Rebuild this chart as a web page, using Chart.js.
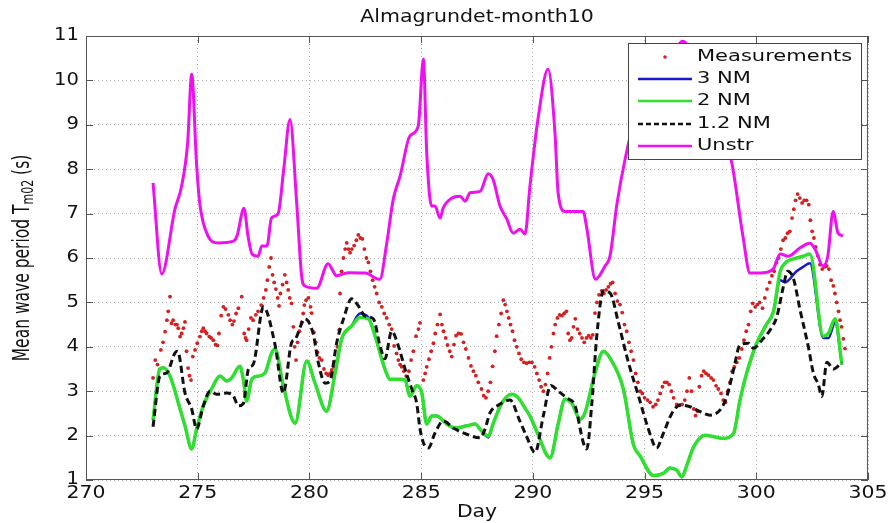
<!DOCTYPE html>
<html>
<head>
<meta charset="utf-8">
<title>Almagrundet-month10</title>
<script src="https://cdn.jsdelivr.net/npm/chart.js@4.4.1/dist/chart.umd.min.js"></script>
<style>
  html, body { margin: 0; padding: 0; background: #fff; }
  #wrap { width: 890px; height: 523px; position: relative; }
</style>
</head>
<body>
<div id="wrap"><canvas id="waveChart"></canvas></div>
<script>
// tick labels
const xTicks = [270, 275, 280, 285, 290, 295, 300, 305];
const yTicks = [1, 2, 3, 4, 5, 6, 7, 8, 9, 10, 11];

// measured Tm02 (red dots)
const measDays = [273.0, 273.1, 273.2, 273.35, 273.45, 273.54, 273.62, 273.68, 273.76, 273.83, 273.9, 274.0, 274.07, 274.13, 274.21, 274.28, 274.36, 274.43, 274.5, 274.57, 274.63, 274.7, 274.78, 274.88, 274.98,
  275.1, 275.18, 275.25, 275.33, 275.4, 275.52, 275.6, 275.7, 275.8, 275.88, 275.95, 276.05, 276.15, 276.25, 276.37, 276.45, 276.55, 276.62, 276.72, 276.82, 276.97,
  277.08, 277.14, 277.19, 277.28, 277.38, 277.48, 277.6, 277.7, 277.84, 277.95, 278.05, 278.12, 278.2, 278.28, 278.35, 278.42, 278.5, 278.58, 278.64, 278.7, 278.8, 278.9, 278.98,
  279.05, 279.12, 279.2, 279.28, 279.34, 279.4, 279.47, 279.55, 279.65, 279.72, 279.77, 279.85, 279.95, 280.05, 280.1, 280.2, 280.28, 280.36, 280.45, 280.55, 280.65, 280.75, 280.84, 280.92,
  281.0, 281.08, 281.15, 281.25, 281.33, 281.37, 281.44, 281.52, 281.6, 281.67, 281.75, 281.82, 281.9, 282.0, 282.1, 282.19, 282.28, 282.37, 282.46, 282.55, 282.64, 282.73, 282.83, 282.92,
  283.01, 283.12, 283.24, 283.35, 283.46, 283.57, 283.68, 283.79, 283.9, 283.98, 284.06, 284.13, 284.23, 284.33, 284.45, 284.55, 284.65, 284.77, 284.88, 284.95,
  285.1, 285.18, 285.25, 285.35, 285.45, 285.55, 285.63, 285.73, 285.85, 285.93, 286.0, 286.1, 286.18, 286.28, 286.37, 286.47, 286.56, 286.67, 286.79, 286.9,
  287.0, 287.12, 287.23, 287.34, 287.45, 287.56, 287.7, 287.8, 287.9, 288.0, 288.1, 288.2, 288.3, 288.38, 288.48, 288.58, 288.68, 288.76, 288.84, 288.92,
  289.0, 289.09, 289.18, 289.28, 289.38, 289.48, 289.6, 289.72, 289.84, 289.96, 290.08, 290.18, 290.28, 290.37, 290.47, 290.56, 290.66, 290.75, 290.83, 290.92,
  291.0, 291.1, 291.2, 291.3, 291.4, 291.5, 291.58, 291.66, 291.74, 291.82, 291.9, 292.0, 292.1, 292.2, 292.3, 292.4, 292.5, 292.6, 292.68, 292.78, 292.87, 292.96,
  293.08, 293.18, 293.28, 293.38, 293.48, 293.57, 293.68, 293.78, 293.9, 294.0, 294.1, 294.2, 294.3, 294.4, 294.5, 294.6, 294.7, 294.8, 294.9,
  295.0, 295.13, 295.25, 295.38, 295.5, 295.6, 295.7, 295.8, 295.9, 296.0, 296.1, 296.2, 296.3, 296.44, 296.55, 296.68, 296.8, 296.9,
  297.0, 297.1, 297.2, 297.28, 297.37, 297.45, 297.55, 297.65, 297.75, 297.86, 297.98, 298.08, 298.2, 298.3, 298.42, 298.52, 298.62, 298.72, 298.82, 298.92,
  299.02, 299.13, 299.24, 299.35, 299.45, 299.55, 299.65, 299.75, 299.84, 299.95, 300.05, 300.15, 300.28, 300.38, 300.48, 300.6, 300.7, 300.8, 300.9,
  301.0, 301.1, 301.2, 301.3, 301.4, 301.5, 301.6, 301.68, 301.76, 301.85, 301.95, 302.05, 302.15, 302.25, 302.35, 302.42, 302.5, 302.58, 302.66, 302.75, 302.85, 302.95,
  303.05, 303.15, 303.25, 303.35, 303.45, 303.52, 303.6, 303.68, 303.75, 303.82, 303.9, 303.97];
const measVals = [3.3, 3.7, 3.6, 3.93, 4.1, 4.34, 4.6, 4.8, 5.13, 4.53, 4.6, 4.5, 4.5, 4.42, 4.23, 4.3, 4.42, 4.56, 3.9, 3.52, 3.35, 3.25, 3.78, 3.93, 4.08,
  4.23, 4.35, 4.42, 4.35, 4.3, 4.23, 4.2, 4.15, 4.05, 4.03, 4.3, 4.7, 4.9, 4.85, 4.72, 4.6, 4.5, 4.58, 4.75, 4.87, 5.13,
  4.3, 4.2, 4.15, 4.4, 4.65, 4.6, 4.72, 4.8, 4.94, 5.1, 5.28, 5.5, 5.8, 6.0, 5.62, 5.45, 5.3, 5.1, 4.92, 5.2, 5.4, 5.62, 5.45,
  5.28, 5.1, 4.98, 4.45, 4.0, 3.7, 4.1, 4.35, 4.55, 4.75, 4.94, 5.05, 5.1, 4.9, 4.76, 4.33, 4.1, 3.88, 3.75, 3.7, 3.5, 3.4, 3.36, 3.4,
  3.48, 3.55, 3.67, 4.0, 4.38, 5.2, 5.7, 6.0, 6.2, 6.34, 6.2, 6.12, 6.2, 6.28, 6.4, 6.52, 6.45, 6.43, 6.2, 6.0, 5.9, 5.7, 5.5, 5.35,
  5.2, 5.0, 4.9, 4.75, 4.65, 4.5, 4.4, 4.02, 3.85, 3.7, 3.6, 3.55, 3.45, 3.34, 3.45, 3.7, 3.9, 4.24, 4.4, 4.54,
  3.25, 3.4, 3.55, 3.72, 3.9, 4.08, 4.3, 4.5, 4.73, 4.5, 4.35, 4.2, 4.04, 3.9, 3.78, 4.05, 4.25, 4.3, 4.29, 4.1,
  3.95, 3.75, 3.57, 3.45, 3.35, 3.2, 3.05, 2.9, 2.85, 3.0, 3.2, 3.56, 3.9, 4.24, 4.5, 4.75, 5.05, 4.95, 4.8, 4.65,
  4.5, 4.35, 4.15, 4.0, 3.85, 3.72, 3.65, 3.63, 3.65, 3.65, 3.55, 3.4, 3.25, 3.1, 3.0, 3.15, 3.4, 3.75, 4.0, 4.3,
  4.5, 4.65, 4.72, 4.7, 4.75, 4.8, 4.3, 4.15, 4.2, 4.45, 4.63, 4.4, 4.3, 4.2, 4.1, 4.2, 4.25, 4.2, 4.27, 4.76, 5.0, 5.17,
  5.26, 5.2, 5.28, 5.35, 5.42, 5.45, 5.2, 5.03, 4.95, 4.77, 4.5, 4.35, 4.1, 3.9, 3.7, 3.4, 3.2, 3.0, 2.95,
  2.85, 2.8, 2.75, 2.65, 2.7, 2.8, 2.95, 3.1, 3.2, 3.2, 3.15, 3.0, 2.85, 2.7, 2.68, 2.7, 2.8, 3.0,
  3.3, 3.0, 2.6, 2.45, 2.55, 3.1, 3.35, 3.45, 3.4, 3.36, 3.3, 3.25, 3.12, 3.05, 2.95, 2.8, 2.75, 3.0, 3.2, 3.45,
  3.55, 3.65, 3.75, 3.95, 4.15, 4.35, 4.5, 4.8, 4.98, 4.9, 4.95, 5.0, 4.87, 5.1, 5.3, 5.45, 5.6, 5.7, 5.9,
  6.0, 6.2, 6.4, 6.45, 6.56, 6.6, 6.9, 7.1, 7.3, 7.44, 7.35, 7.24, 7.3, 7.3, 7.2, 6.85, 6.6, 6.45, 6.25, 6.05, 5.85, 5.75,
  5.8, 5.82, 5.75, 5.5, 5.37, 5.2, 5.0, 4.8, 4.6, 4.45, 4.18, 3.96];

// 3 NM and 2 NM model runs (same time points)
const nmDays = [273.0, 273.3, 273.46, 273.76, 274.21, 274.43, 274.73, 274.95, 275.25, 275.62, 276.0, 276.3, 276.52, 276.89, 277.04, 277.19, 277.42, 277.71,
  278.01, 278.31, 278.46, 278.83, 279.36, 279.88, 280.25, 280.77, 281.15, 281.44, 281.89, 282.26, 282.64, 282.94, 283.38, 283.6,
  284.06, 284.28, 284.5, 284.8, 285.03, 285.25, 285.47, 285.7, 286.15, 286.52, 287.04, 287.41, 287.71, 288.01, 288.23, 288.61,
  289.05, 289.35, 289.65, 289.87, 290.17, 290.77, 291.14, 291.44, 291.74, 292.11, 292.33, 292.78, 293.16, 293.46, 294.05, 294.5, 294.8,
  295.4, 295.84, 296.14, 296.44, 296.67, 296.89, 297.19, 297.71, 298.53, 298.98, 299.27, 299.57, 300.02, 300.45, 300.77,
  301.07, 301.28, 301.8, 302.1, 302.4, 303.0, 303.23, 303.53, 303.83];
const nm2Vals = [2.35, 3.5, 3.53, 3.34, 2.6, 2.22, 1.7, 2.15, 2.67, 3.05, 3.34, 3.23, 3.3, 3.56, 3.27, 2.78, 3.27, 3.34,
  3.41, 3.86, 3.95, 3.12, 2.28, 3.68, 3.18, 2.55, 3.41, 4.17, 4.47, 4.66, 4.63, 4.24, 3.5, 3.27,
  3.27, 3.25, 2.89, 3.12, 2.96, 2.26, 2.44, 2.44, 2.26, 2.17, 2.22, 2.26, 2.1, 1.99, 2.28, 2.73,
  2.93, 2.85, 2.62, 2.44, 2.1, 1.5, 2.28, 2.82, 2.73, 2.37, 2.51, 3.41, 3.9, 3.74, 3.05, 1.8, 1.54,
  1.1, 1.15, 1.27, 1.22, 1.07, 1.33, 1.74, 2.01, 1.94, 2.05, 2.8, 3.41, 4.08, 4.5, 4.8,
  5.7, 5.88, 6.0, 6.04, 6.09, 4.24, 4.31, 4.63, 3.6];
const nm3Vals = [2.35, 3.5, 3.53, 3.34, 2.6, 2.22, 1.7, 2.15, 2.67, 3.05, 3.34, 3.23, 3.3, 3.56, 3.27, 2.78, 3.27, 3.34,
  3.41, 3.86, 3.95, 3.12, 2.28, 3.68, 3.18, 2.55, 3.41, 4.17, 4.47, 4.75, 4.66, 4.24, 3.5, 3.27,
  3.27, 3.25, 2.89, 3.12, 2.96, 2.26, 2.44, 2.44, 2.26, 2.17, 2.22, 2.26, 2.1, 1.96, 2.28, 2.73,
  2.93, 2.85, 2.62, 2.44, 2.1, 1.5, 2.28, 2.82, 2.73, 2.37, 2.51, 3.41, 3.9, 3.74, 3.05, 1.8, 1.54,
  1.1, 1.15, 1.27, 1.22, 1.07, 1.33, 1.74, 2.01, 1.94, 2.05, 2.8, 3.41, 4.08, 4.5, 4.8,
  5.5, 5.45, 5.7, 5.8, 5.88, 4.2, 4.2, 4.55, 3.6];

// 1.2 NM model run
const nm12Days = [273.0, 273.31, 273.61, 273.98, 274.1, 274.43, 274.73, 274.95, 275.25, 275.55, 275.85, 276.3, 276.6, 276.82, 277.04, 277.27, 277.49, 277.94,
  278.46, 278.83, 279.2, 279.36, 279.8, 280.17, 280.4, 280.7, 280.92, 281.22, 281.52, 281.89, 282.19, 282.49, 282.86, 283.16, 283.38, 283.68, 283.98,
  284.28, 284.58, 284.8, 284.95, 285.1, 285.32, 285.62, 285.99, 286.44, 287.04, 287.64, 287.86, 288.08, 288.5, 288.98, 289.4, 289.72,
  290.1, 290.47, 290.8, 291.14, 291.51, 291.89, 292.26, 292.41, 292.64, 292.86, 293.16, 293.46, 293.83, 294.28, 294.73,
  295.17, 295.54, 295.84, 296.22, 296.59, 297.04, 297.49, 297.93, 298.38, 298.68, 298.98, 299.27, 299.65, 299.87,
  300.25, 300.62, 300.92, 301.21, 301.4, 301.66, 301.96, 302.33, 302.56, 302.78, 302.93, 303.16, 303.45, 303.83];
const nm12Vals = [2.2, 3.34, 3.41, 3.86, 3.9, 2.96, 2.6, 2.15, 2.67, 3.0, 2.93, 2.96, 2.89, 2.67, 2.72, 3.5, 3.61, 4.9,
  4.05, 2.96, 4.09, 4.17, 4.63, 4.29, 3.64, 3.18, 3.23, 4.09, 4.62, 5.08, 4.92, 4.69, 4.63, 4.02, 3.73, 4.35, 4.02,
  3.5, 3.05, 2.73, 2.15, 1.84, 1.72, 2.06, 2.33, 2.17, 2.03, 1.95, 2.15, 2.51, 2.7, 2.8, 2.35, 1.98,
  1.62, 2.45, 3.13, 3.0, 2.85, 2.67, 1.84, 1.7, 2.73, 4.24, 5.26, 5.21, 4.54, 3.64, 2.89,
  2.15, 1.72, 2.05, 2.5, 2.69, 2.65, 2.54, 2.46, 2.58, 2.88, 3.48, 4.04, 4.08, 3.97,
  4.15, 4.38, 4.68, 5.35, 5.7, 5.54, 4.83, 4.0, 3.4, 3.15, 2.88, 3.65, 3.5, 3.65];

// unstructured grid run
const unstrDays = [273.0, 273.39, 273.98, 274.28, 274.55, 274.73, 274.95, 275.1, 275.46, 275.9, 276.6, 276.76, 277.07, 277.25, 277.43, 277.7, 277.87,
  278.1, 278.3, 278.6, 278.85, 279.13, 279.43, 279.65, 279.8, 280.33, 280.83, 281.22, 281.73, 282.5, 283.15, 283.46, 283.75,
  284.06, 284.5, 284.87, 285.1, 285.25, 285.47, 285.62, 285.85, 285.98, 286.37, 286.74, 286.97, 287.19, 287.64, 288.0, 288.22, 288.53, 288.83,
  289.12, 289.43, 289.65, 289.87, 290.23, 290.68, 290.99, 291.13, 291.44, 292.25, 292.42, 292.8, 293.23, 293.45, 293.77,
  294.13, 294.6, 295.3, 296.0, 296.72, 297.4, 298.2, 298.9, 299.4, 299.72, 300.17, 300.75, 301.07, 301.43, 301.96,
  302.4, 302.63, 302.99, 303.2, 303.44, 303.66, 303.88];
const unstrVals = [7.69, 5.64, 7.1, 7.62, 8.6, 10.14, 8.1, 7.2, 6.5, 6.34, 6.38, 6.5, 7.12, 6.5, 6.09, 6.04, 6.27,
  6.27, 6.9, 7.0, 8.0, 9.12, 7.24, 5.6, 5.37, 5.32, 5.87, 5.6, 5.67, 5.66, 5.52, 6.33, 7.32,
  7.85, 8.75, 8.97, 10.48, 8.37, 7.17, 7.17, 6.9, 7.12, 7.35, 7.39, 7.28, 7.47, 7.5, 7.9, 7.77, 7.17, 6.88,
  6.56, 6.65, 6.54, 7.62, 9.13, 10.25, 8.82, 7.47, 7.05, 7.05, 6.65, 5.52, 5.82, 6.04, 7.24,
  8.23, 9.2, 9.9, 10.3, 10.88, 10.2, 9.2, 8.15, 6.5, 5.66, 5.66, 5.75, 6.09, 6.04, 6.23,
  6.33, 6.2, 5.82, 6.04, 7.05, 6.56, 6.5];

const FONT = '"DejaVu Sans", sans-serif';

function toPoints(days, vals) {
    return days.map((d, i) => ({ x: d, y: vals[i] }));
}

// text drawn wider than the font, the original picture is stretched sideways
function wideText(ctx, text, x, y, size, sx, align) {
    ctx.save();
    ctx.font = size + 'px ' + FONT;
    ctx.textBaseline = 'middle';
    ctx.textAlign = 'left';
    const w = ctx.measureText(text).width * sx;
    let left = x;
    if (align === 'center') left = x - w / 2;
    else if (align === 'right') left = x - w;
    ctx.translate(left, y);
    ctx.scale(sx, 1);
    ctx.fillText(text, 0, 0);
    ctx.restore();
}

const legendItems = [
    { label: 'Measurements', kind: 'dot', color: '#d42020' },
    { label: '3 NM', kind: 'line', color: '#1a1acc', width: 2.5, dash: [] },
    { label: '2 NM', kind: 'line', color: '#2fe02f', width: 2.5, dash: [] },
    { label: '1.2 NM', kind: 'line', color: '#111', width: 2.5, dash: [5, 3] },
    { label: 'Unstr', kind: 'line', color: '#ee10ee', width: 2.5, dash: [] }
];

const matlabLook = {
    id: 'matlabLook',
    beforeDraw(chart) {
        const ctx = chart.ctx;
        ctx.save();
        ctx.fillStyle = '#fff';
        ctx.fillRect(0, 0, chart.width, chart.height);
        ctx.restore();
    },
    afterDatasetsDraw(chart) {
        const ctx = chart.ctx;
        const a = chart.chartArea;
        const xs = chart.scales.x;
        const ys = chart.scales.y;

        ctx.save();
        // frame
        ctx.strokeStyle = '#555';
        ctx.lineWidth = 1;
        ctx.strokeRect(a.left + 0.5, a.top + 0.5, a.right - a.left - 1, a.bottom - a.top - 1);

        // inner tick marks
        ctx.beginPath();
        xTicks.forEach(v => {
            const px = Math.round(xs.getPixelForValue(v)) + 0.5;
            ctx.moveTo(px, a.bottom); ctx.lineTo(px, a.bottom - 7);
            ctx.moveTo(px, a.top); ctx.lineTo(px, a.top + 7);
        });
        yTicks.forEach(v => {
            const py = Math.round(ys.getPixelForValue(v)) + 0.5;
            ctx.moveTo(a.left, py); ctx.lineTo(a.left + 7, py);
            ctx.moveTo(a.right, py); ctx.lineTo(a.right - 7, py);
        });
        ctx.stroke();

        // tick labels
        ctx.fillStyle = '#111';
        xTicks.forEach(v => {
            wideText(ctx, String(v), xs.getPixelForValue(v), a.bottom + 14, 17, 1.2, 'center');
        });
        yTicks.forEach(v => {
            wideText(ctx, String(v), a.left - 7, ys.getPixelForValue(v), 17, 1.15, 'right');
        });

        // title and x label
        wideText(ctx, 'Almagrundet-month10', (a.left + a.right) / 2, 17, 18, 1.14, 'center');
        wideText(ctx, 'Day', (a.left + a.right) / 2, 512, 18, 1.13, 'center');

        // y label with subscript
        ctx.save();
        ctx.translate(23, (a.top + a.bottom) / 2);
        ctx.scale(1.45, 1);
        ctx.rotate(-Math.PI / 2);
        ctx.textBaseline = 'middle';
        ctx.textAlign = 'left';
        const partA = 'Mean wave period T', partSub = 'm02', partB = ' (s)';
        ctx.font = '15.5px ' + FONT;
        const wa = ctx.measureText(partA).width, wb = ctx.measureText(partB).width;
        ctx.font = '11px ' + FONT;
        const ws = ctx.measureText(partSub).width;
        let u = -(wa + ws + wb) / 2;
        ctx.font = '15.5px ' + FONT;
        ctx.fillText(partA, u, 0);
        u += wa;
        ctx.font = '11px ' + FONT;
        ctx.fillText(partSub, u, 4);
        u += ws;
        ctx.font = '15.5px ' + FONT;
        ctx.fillText(partB, u, 0);
        ctx.restore();

        // legend box
        const lx = 628, ly = 43, lw = 233, lh = 116;
        ctx.fillStyle = '#fff';
        ctx.fillRect(lx, ly, lw, lh);
        ctx.strokeStyle = '#444';
        ctx.lineWidth = 1;
        ctx.strokeRect(lx + 0.5, ly + 0.5, lw, lh);
        const rows = [57, 79, 101, 124, 146];
        legendItems.forEach((it, i) => {
            const y = rows[i];
            if (it.kind === 'dot') {
                ctx.fillStyle = it.color;
                ctx.beginPath();
                ctx.arc(665, y, 1.8, 0, Math.PI * 2);
                ctx.fill();
            } else {
                ctx.strokeStyle = it.color;
                ctx.lineWidth = it.width;
                ctx.setLineDash(it.dash);
                ctx.beginPath();
                ctx.moveTo(638, y);
                ctx.lineTo(692, y);
                ctx.stroke();
                ctx.setLineDash([]);
            }
            ctx.fillStyle = '#111';
            wideText(ctx, it.label, 697, y, 15, 1.4, 'left');
        });
        ctx.restore();
    }
};

const ctx = document.getElementById('waveChart').getContext('2d');
const lineCommon = { showLine: true, pointRadius: 0, fill: false, cubicInterpolationMode: 'monotone' };

new Chart(ctx, {
    type: 'scatter',
    data: {
        datasets: [
            {
                label: 'Measurements',
                data: toPoints(measDays, measVals),
                showLine: false,
                pointRadius: 1.9,
                pointBorderWidth: 0,
                pointBackgroundColor: '#d42020',
                order: 5
            },
            { ...lineCommon, label: '3 NM', data: toPoints(nmDays, nm3Vals), borderColor: '#1a1acc', borderWidth: 2.5, order: 4 },
            { ...lineCommon, label: '2 NM', data: toPoints(nmDays, nm2Vals), borderColor: '#2fe02f', borderWidth: 3.5, order: 3 },
            { ...lineCommon, label: '1.2 NM', data: toPoints(nm12Days, nm12Vals), borderColor: '#111', borderWidth: 3, borderDash: [7, 4], order: 2 },
            { ...lineCommon, label: 'Unstr', data: toPoints(unstrDays, unstrVals), borderColor: '#ee10ee', borderWidth: 3, order: 1 }
        ]
    },
    options: {
        responsive: true,
        maintainAspectRatio: false,
        animation: false,
        events: [],
        layout: { padding: { top: 36, right: 22, left: 0, bottom: 0 } },
        plugins: {
            legend: { display: false },
            title: { display: false },
            tooltip: { enabled: false }
        },
        scales: {
            x: {
                type: 'linear',
                min: 270,
                max: 305,
                ticks: { stepSize: 5, display: false },
                grid: { color: '#b0b0b0', lineWidth: 1, drawTicks: false },
                border: { display: false, dash: [1, 3] },
                afterFit: s => { s.height = 43; }
            },
            y: {
                min: 1,
                max: 11,
                ticks: { stepSize: 1, display: false },
                grid: { color: '#b0b0b0', lineWidth: 1, drawTicks: false },
                border: { display: false, dash: [1, 3] },
                afterFit: s => { s.width = 86; }
            }
        }
    },
    plugins: [matlabLook]
});
</script>
</body>
</html>
